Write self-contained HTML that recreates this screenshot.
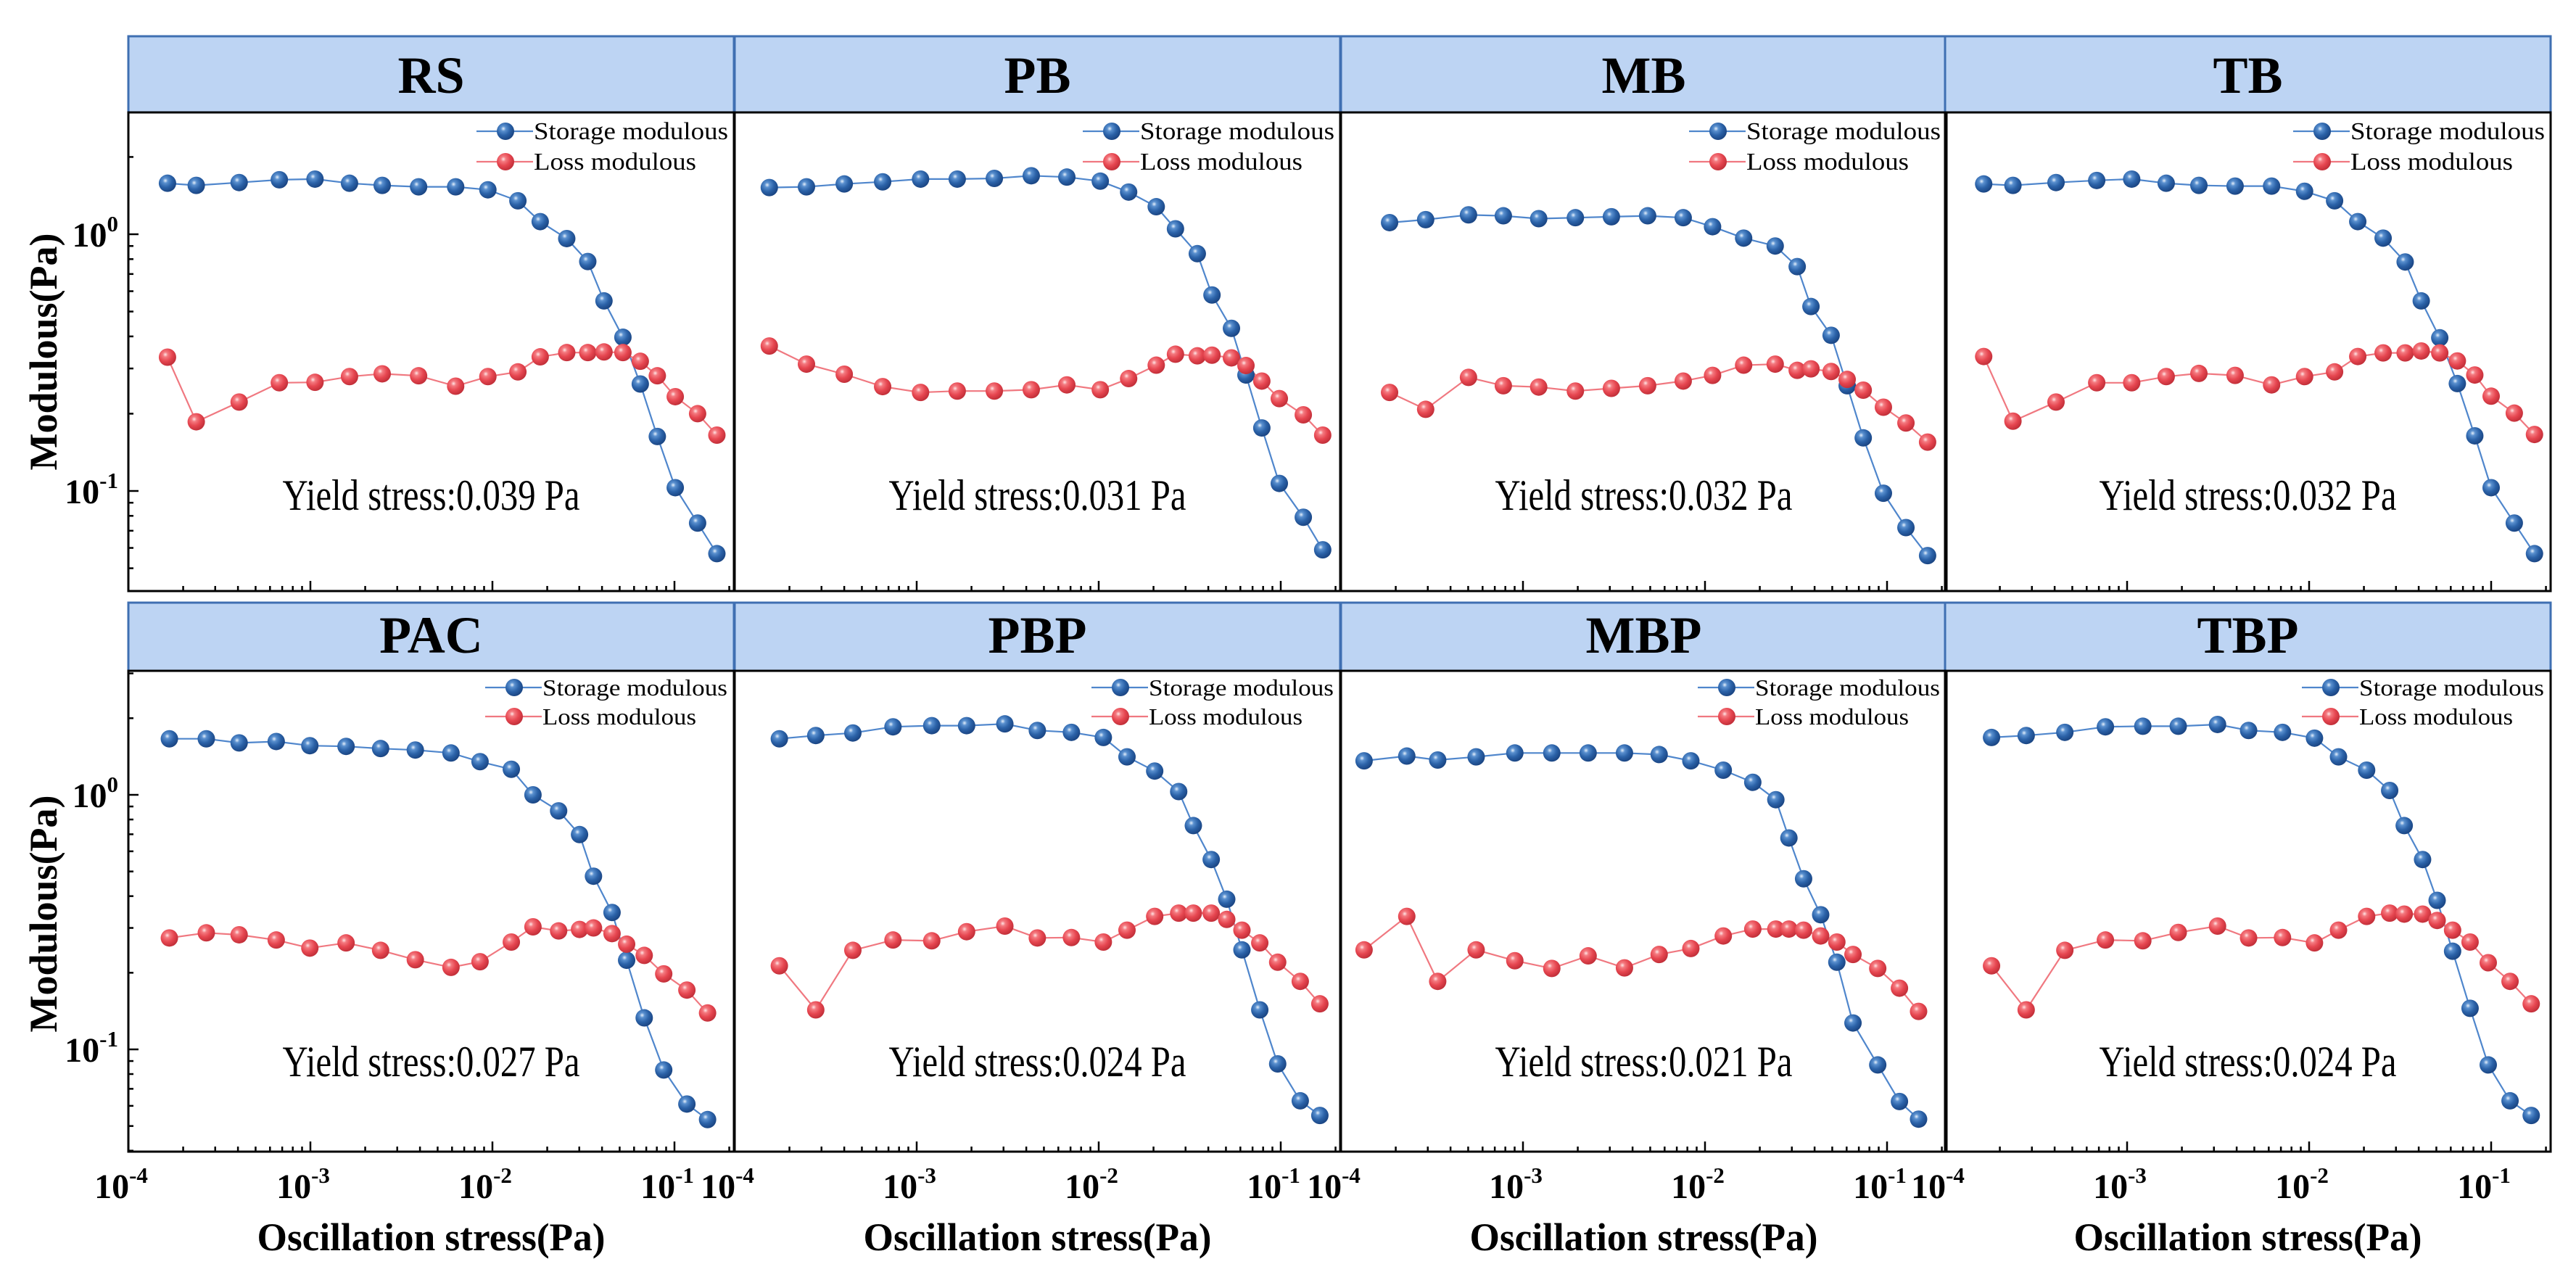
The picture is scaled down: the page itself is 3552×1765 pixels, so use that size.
<!DOCTYPE html>
<html><head><meta charset="utf-8"><style>
html,body{margin:0;padding:0;background:#fff;}
svg{display:block;}
text{font-family:"Liberation Serif","Times New Roman",serif;}
</style></head><body>
<svg id="fig" width="3552" height="1765" viewBox="0 0 3552 1765" xmlns="http://www.w3.org/2000/svg">
<defs>
<radialGradient id="blueBall" cx="38%" cy="35%" r="65%">
<stop offset="0%" stop-color="#e6f0fb"/><stop offset="22%" stop-color="#5a90cf"/><stop offset="60%" stop-color="#2b62a8"/><stop offset="100%" stop-color="#1b4684"/>
</radialGradient>
<radialGradient id="redBall" cx="38%" cy="35%" r="65%">
<stop offset="0%" stop-color="#ffe6e6"/><stop offset="22%" stop-color="#f47a80"/><stop offset="60%" stop-color="#e64650"/><stop offset="100%" stop-color="#c3303a"/>
</radialGradient>
</defs>
</svg>
<script>
// ---- data (stress in Pa, modulus in Pa) ----
const stressRS=[1.64e-4,2.36e-4,4.06e-4,6.75e-4,1.06e-3,1.64e-3,2.48e-3,3.93e-3,6.28e-3,9.44e-3,0.0138,0.0183,0.0256,0.0334,0.041,0.0521,0.0649,0.0805,0.101,0.134,0.171];
const storageRS=[1.58,1.55,1.59,1.63,1.64,1.58,1.55,1.53,1.53,1.49,1.35,1.12,0.962,0.783,0.55,0.397,0.261,0.163,0.103,0.075,0.057];
const lossRS=[0.332,0.186,0.222,0.264,0.265,0.279,0.286,0.281,0.256,0.279,0.291,0.333,0.346,0.346,0.348,0.346,0.32,0.281,0.233,0.2,0.165];

const stressPB=[1.55e-4,2.48e-4,4.0e-4,6.5e-4,1.05e-3,1.67e-3,2.67e-3,4.26e-3,6.68e-3,0.0102,0.0146,0.0207,0.0264,0.0348,0.0419,0.0536,0.0644,0.0787,0.0982,0.133,0.170];
const storagePB=[1.52,1.53,1.57,1.6,1.64,1.64,1.65,1.69,1.67,1.61,1.46,1.28,1.05,0.84,0.58,0.43,0.283,0.176,0.107,0.079,0.059];
const lossPB=[0.367,0.312,0.285,0.255,0.242,0.245,0.245,0.248,0.259,0.248,0.274,0.309,0.341,0.336,0.338,0.33,0.308,0.268,0.229,0.198,0.165];

const stressMB=[1.85e-4,2.92e-4,5.02e-4,7.8e-4,1.22e-3,1.94e-3,3.06e-3,4.84e-3,7.59e-3,0.011,0.0163,0.0243,0.0321,0.0382,0.0493,0.0604,0.074,0.0955,0.127,0.167];
const storageMB=[1.11,1.14,1.19,1.18,1.15,1.16,1.17,1.18,1.16,1.07,0.966,0.90,0.748,0.523,0.404,0.257,0.161,0.098,0.072,0.056];
const lossMB=[0.242,0.208,0.277,0.257,0.254,0.245,0.251,0.257,0.268,0.282,0.309,0.312,0.295,0.299,0.292,0.272,0.247,0.212,0.184,0.155];

const stressTB=[1.63e-4,2.36e-4,4.07e-4,6.81e-4,1.06e-3,1.64e-3,2.48e-3,3.92e-3,6.22e-3,9.44e-3,0.0138,0.0185,0.0255,0.0337,0.0413,0.0522,0.0652,0.0813,0.1,0.134,0.173];
const storageTB=[1.57,1.55,1.59,1.62,1.64,1.58,1.55,1.54,1.54,1.47,1.35,1.12,0.966,0.78,0.55,0.395,0.262,0.164,0.103,0.075,0.057];
const lossTB=[0.334,0.187,0.222,0.264,0.264,0.279,0.287,0.282,0.259,0.279,0.291,0.334,0.345,0.345,0.351,0.345,0.321,0.283,0.234,0.201,0.166];

const stressPAC=[1.68e-4,2.68e-4,4.06e-4,6.49e-4,9.93e-4,1.57e-3,2.43e-3,3.77e-3,5.92e-3,8.55e-3,0.0127,0.0167,0.0231,0.0301,0.0359,0.0454,0.0546,0.0682,0.0873,0.117,0.152];
const storagePAC=[1.66,1.66,1.6,1.62,1.56,1.55,1.52,1.5,1.46,1.35,1.26,1.0,0.865,0.698,0.479,0.345,0.224,0.133,0.083,0.061,0.053];
const lossPAC=[0.274,0.287,0.282,0.269,0.25,0.262,0.245,0.225,0.21,0.221,0.264,0.303,0.292,0.296,0.3,0.285,0.259,0.234,0.198,0.171,0.139];

const stressPBP=[1.76e-4,2.79e-4,4.46e-4,7.41e-4,1.21e-3,1.88e-3,3.05e-3,4.6e-3,7.08e-3,0.0106,0.0143,0.0203,0.0275,0.0331,0.0415,0.0505,0.0612,0.0767,0.0962,0.128,0.164];
const storagePBP=[1.66,1.71,1.75,1.85,1.87,1.87,1.9,1.79,1.76,1.68,1.41,1.24,1.03,0.757,0.557,0.389,0.246,0.143,0.0877,0.0628,0.055];
const lossPBP=[0.213,0.143,0.245,0.269,0.267,0.29,0.305,0.274,0.275,0.264,0.294,0.333,0.343,0.343,0.343,0.324,0.294,0.262,0.22,0.185,0.151];

const stressMBP=[1.34e-4,2.3e-4,3.4e-4,5.53e-4,9.02e-4,1.44e-3,2.28e-3,3.61e-3,5.6e-3,8.36e-3,0.0126,0.0183,0.0245,0.0289,0.0348,0.0432,0.053,0.065,0.0889,0.117,0.149];
const storageMBP=[1.36,1.42,1.37,1.41,1.46,1.46,1.46,1.46,1.44,1.36,1.25,1.12,0.957,0.677,0.468,0.338,0.22,0.127,0.0869,0.0624,0.0532];
const lossMBP=[0.246,0.333,0.185,0.246,0.223,0.208,0.233,0.209,0.236,0.249,0.279,0.297,0.297,0.297,0.294,0.279,0.264,0.236,0.208,0.174,0.141];

const stressTBP=[1.8e-4,2.79e-4,4.55e-4,7.6e-4,1.22e-3,1.91e-3,3.14e-3,4.65e-3,7.14e-3,0.0107,0.0145,0.0207,0.0277,0.0333,0.042,0.0505,0.0614,0.0766,0.0964,0.127,0.166];
const storageTBP=[1.68,1.71,1.76,1.85,1.86,1.86,1.89,1.79,1.76,1.67,1.41,1.25,1.04,0.757,0.557,0.385,0.243,0.145,0.0869,0.0628,0.055];
const lossTBP=[0.213,0.143,0.245,0.269,0.267,0.288,0.305,0.274,0.275,0.262,0.294,0.333,0.343,0.34,0.34,0.321,0.294,0.264,0.219,0.185,0.151];

const panelNames=['RS','PB','MB','TB','PAC','PBP','MBP','TBP'];
const yieldLabels=['Yield stress:0.039 Pa','Yield stress:0.031 Pa','Yield stress:0.032 Pa','Yield stress:0.032 Pa','Yield stress:0.027 Pa','Yield stress:0.024 Pa','Yield stress:0.021 Pa','Yield stress:0.024 Pa'];
const xTickExps=[-4,-3,-2,-1];
const yTickExps=[0,-1];
const legendLabels=['Storage modulous','Loss modulous'];

const stressSets=[stressRS,stressPB,stressMB,stressTB,stressPAC,stressPBP,stressMBP,stressTBP];
const storageSets=[storageRS,storagePB,storageMB,storageTB,storagePAC,storagePBP,storageMBP,storageTBP];
const lossSets=[lossRS,lossPB,lossMB,lossTB,lossPAC,lossPBP,lossMBP,lossTBP];

// ---- layout ----
const NS='http://www.w3.org/2000/svg';
const svg=document.getElementById('fig');
const colL=[177,1013,1849,2682];
const plotW=835, decX=251;
const rows=[
 {hTop:50,hBot:155,top:155,bot:815,y0:323,dec:354,titleBase:128,legY:[181,223],legX:520,legFs:34,legLen:[268,224],yieldBase:703},
 {hTop:831,hBot:925,top:925,bot:1588,y0:1096,dec:351,titleBase:900,legY:[948,988],legX:532,legFs:32,legLen:[255,212],yieldBase:1484}
];
function xs(col,v){return colL[col]+(Math.log10(v)+4)*decX;}
function ys(row,v){const r=rows[row];return r.y0-Math.log10(v)*r.dec;}
function mk(tag,attrs,parent){const e=document.createElementNS(NS,tag);for(const k in attrs)e.setAttribute(k,attrs[k]);(parent||svg).appendChild(e);return e;}

for(let p=0;p<8;p++){
  const row=p<4?0:1, col=p%4, R=rows[row], L=colL[col];
  const g=mk('g',{});
  
  
  const hd=mk('rect',{x:L,y:R.hTop,width:plotW,height:R.hBot-R.hTop,fill:'#bdd4f3',stroke:'#3f6fb2','stroke-width':3},g);
  
  
  const ht=mk('text',{x:L+plotW/2,y:R.titleBase,'text-anchor':'middle','font-size':72,'font-weight':'bold',fill:'#000'},g);
  ht.textContent=panelNames[p];
  
  
  const fr=mk('rect',{x:L,y:R.top,width:plotW,height:R.bot-R.top,fill:'none',stroke:'#000','stroke-width':3},g);
  
  
  for(let e=-4;e<=-1;e++){
    for(let m=1;m<=9;m++){
      const v=m*Math.pow(10,e); const X=xs(col,v);
      if(X<L||X>L+plotW) continue;
      const len=m===1?14:7;
      const t=mk('line',{x1:X,x2:X,y1:R.bot,y2:R.bot-len,stroke:'#000','stroke-width':2.5},g);
      
      
    }
  }
  if(row===1){
    xTickExps.forEach(e=>{
      const X=xs(col,Math.pow(10,e));
      const t=mk('text',{x:X-10,y:1652,'text-anchor':'middle','font-size':48,'font-weight':'bold',fill:'#000'},g);
      t.textContent='10';
      const s=mk('tspan',{'font-size':31,dy:-21},t); s.textContent=String(e);
      
      
    });
    const xt=mk('text',{x:L+plotW/2,y:1724,'text-anchor':'middle','font-size':54,'font-weight':'bold',fill:'#000',textLength:480,lengthAdjust:'spacingAndGlyphs'},g);
    xt.textContent='Oscillation stress(Pa)';
    
    
  }
  if(col===0){
    for(let e=-2;e<=0;e++){
      for(let m=1;m<=9;m++){
        const v=m*Math.pow(10,e); const Y=ys(row,v);
        if(Y<R.top||Y>R.bot) continue;
        const len=m===1?14:7;
        const t=mk('line',{x1:L,x2:L+len,y1:Y,y2:Y,stroke:'#000','stroke-width':2.5},g);
        
        
      }
    }
    yTickExps.forEach(e=>{
      const Y=ys(row,Math.pow(10,e));
      const t=mk('text',{x:163,y:Y+17,'text-anchor':'end','font-size':48,'font-weight':'bold',fill:'#000'},g);
      t.textContent='10';
      const s=mk('tspan',{'font-size':31,dy:-21},t); s.textContent=String(e);
      
      
    });
    const cy=row===0?485:1260;
    const yt=mk('text',{x:0,y:0,'text-anchor':'middle','font-size':54,'font-weight':'bold',fill:'#000',transform:'translate(78,'+cy+') rotate(-90)'},g);
    yt.textContent='Modulous(Pa)';
    
    
  }
  const yl=mk('text',{x:L+plotW/2,y:R.yieldBase,'text-anchor':'middle','font-size':60,fill:'#000',textLength:410,lengthAdjust:'spacingAndGlyphs'},g);
  yl.textContent=yieldLabels[p];
  
  
  const series=[{vals:storageSets[p],line:'#4f86cc',grad:'url(#blueBall)',name:'storage'},{vals:lossSets[p],line:'#f07880',grad:'url(#redBall)',name:'loss'}];
  const xsArr=stressSets[p];
  series.forEach(s=>{
    const pts=s.vals.map((v,i)=>xs(col,xsArr[i]).toFixed(1)+','+ys(row,v).toFixed(1)).join(' ');
    const pl=mk('polyline',{points:pts,fill:'none',stroke:s.line,'stroke-width':2.2},g);
    
    
  });
  series.forEach(s=>{
    s.vals.forEach((v,i)=>{
      const c=mk('circle',{cx:xs(col,xsArr[i]),cy:ys(row,v),r:12,fill:s.grad},g);
      
      
    });
  });
  series.forEach((s,k)=>{
    const ly=R.legY[k], mx=L+R.legX;
    const lg=mk('g',{},g);
    
    
    mk('line',{x1:mx-40,x2:mx+38,y1:ly,y2:ly,stroke:s.line,'stroke-width':2.2},lg);
    mk('circle',{cx:mx,cy:ly,r:12,fill:s.grad},lg);
    const t=mk('text',{x:mx+39,y:ly+11,'font-size':R.legFs,fill:'#000',textLength:R.legLen[k],lengthAdjust:'spacingAndGlyphs'},lg);
    t.textContent=legendLabels[k];
  });
}
</script>
</body></html>
